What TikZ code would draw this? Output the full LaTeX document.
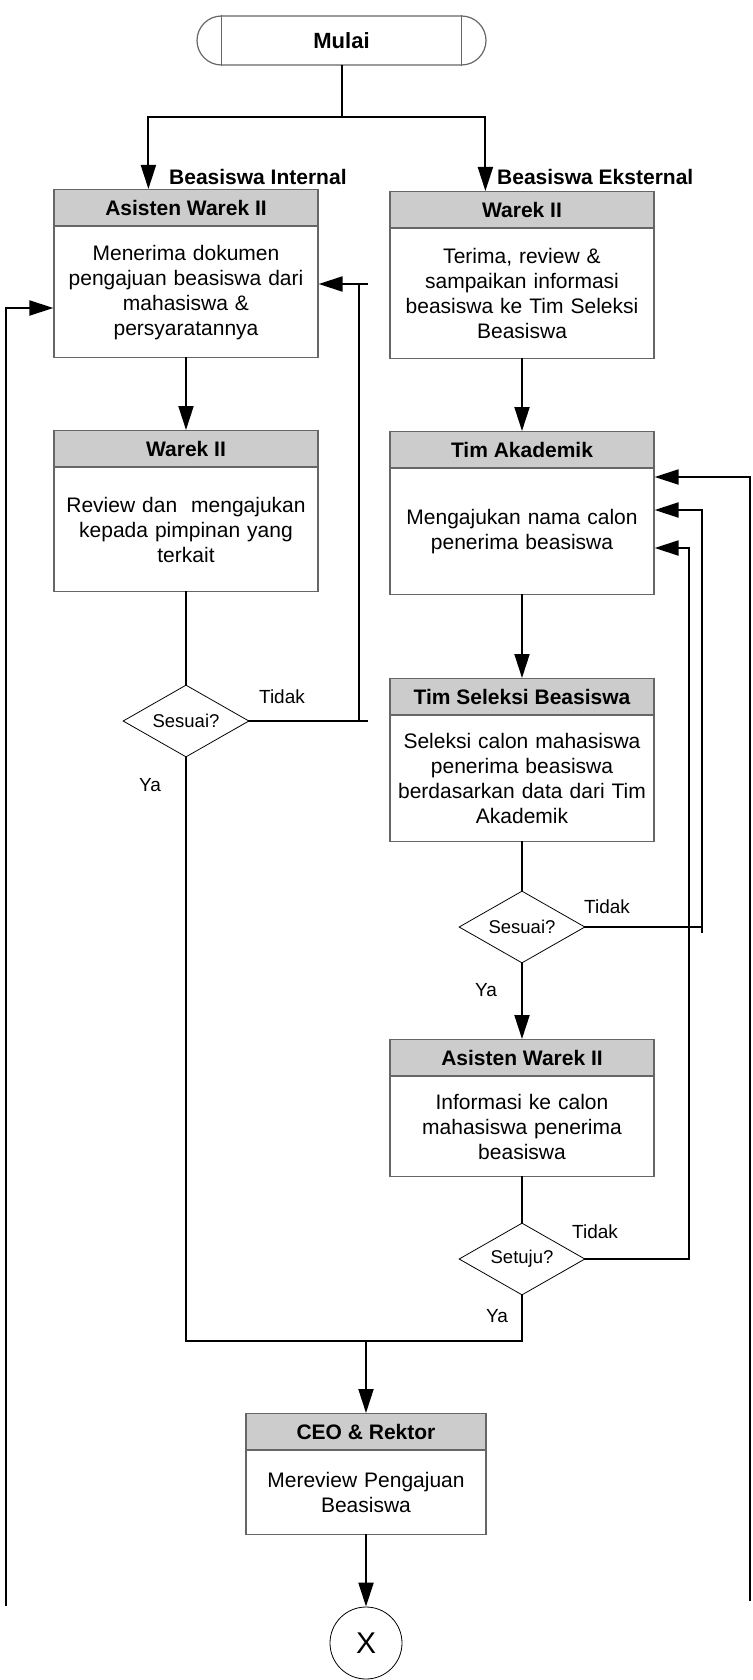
\documentclass[tikz,border=0pt]{standalone}
\usepackage{fontspec}
\setmainfont{Liberation Sans}
\usetikzlibrary{shapes.geometric}
\usetikzlibrary{arrows.meta}
\usetikzlibrary{calc}

\begin{document}
\begin{tikzpicture}[x=1pt, y=-1pt]
        \tikzstyle{rolebox} = [rectangle, draw=black!60, line width=1.2pt, fill=black!20, minimum width=264pt, minimum height=36pt, inner sep=0pt, anchor=north, font=\fontsize{21}{25}\selectfont\bfseries]
        \tikzstyle{taskbox} = [rectangle, draw=black!60, line width=1.2pt, fill=white, text width=256pt, inner xsep=4pt, inner ysep=0pt, align=center, anchor=north, font=\fontsize{21}{25}\selectfont]
        \tikzstyle{decision} = [diamond, draw, line width=0.8pt, minimum width=126pt, minimum height=72pt, inner sep=0pt, aspect=1.75, font=\fontsize{18.5}{22}\selectfont]
        \tikzstyle{wire} = [draw, line width=2pt, line cap=rect]
        \tikzstyle{flow} = [wire, -{Triangle[length=24pt, width=15pt]}]
        \tikzstyle{tag} = [inner sep=0pt, font=\fontsize{19}{22}\selectfont]

        \useasboundingbox (0,0) rectangle (752,1680);

        % start
        \node[draw=black!60, line width=1.2pt, rounded corners=24.5pt, minimum width=289pt, minimum height=49pt, font=\fontsize{22}{26}\selectfont\bfseries] (start) at (341.5,40.5) {Mulai};
        \draw[draw=black!60, line width=1.2pt] ($(start.north west)+(25,0)$) -- ($(start.south west)+(25,0)$);
        \draw[draw=black!60, line width=1.2pt] ($(start.north east)+(-25,0)$) -- ($(start.south east)+(-25,0)$);

        % left column
        \node[rolebox] (aw1h) at (186,189) {Asisten Warek II};
        \node[taskbox, minimum height=131pt] (aw1b) at (aw1h.south) {Menerima dokumen\\pengajuan beasiswa dari\\mahasiswa \&\\persyaratannya};
        \node[rolebox] (wk1h) at (186,430) {Warek II};
        \node[taskbox, minimum height=124pt] (wk1b) at (wk1h.south) {Review dan\ \ mengajukan\\kepada pimpinan yang\\terkait};
        \node[decision] (dec1) at (186,721) {Sesuai?};

        % right column
        \node[rolebox] (wk2h) at (522,191) {Warek II};
        \node[taskbox, minimum height=130pt] (wk2b) at (wk2h.south) {Terima, review \&\\sampaikan informasi\\beasiswa ke Tim Seleksi\\Beasiswa};
        \node[rolebox] (akh) at (522,431) {Tim Akademik};
        \node[taskbox, minimum height=126pt] (akb) at (akh.south) {Mengajukan nama calon\\penerima beasiswa};
        \node[rolebox] (tsh) at (522,678) {Tim Seleksi Beasiswa};
        \node[taskbox, minimum height=126pt] (tsb) at (tsh.south) {Seleksi calon mahasiswa\\penerima beasiswa\\berdasarkan data dari Tim\\Akademik};
        \node[decision] (dec2) at (522,927) {Sesuai?};
        \node[rolebox] (aw2h) at (522,1039) {Asisten Warek II};
        \node[taskbox, minimum height=100pt] (aw2b) at (aw2h.south) {Informasi ke calon\\mahasiswa penerima\\beasiswa};
        \node[decision] (dec3) at (522,1259) {Setuju?};

        % bottom
        \node[rolebox, minimum width=240pt] (ceoh) at (366,1413) {CEO \& Rektor};
        \node[taskbox, text width=232pt, minimum height=84pt] (ceob) at (ceoh.south) {Mereview Pengajuan\\Beasiswa};
        \node[circle, draw, line width=0.8pt, minimum size=72pt, inner sep=0pt, font=\fontsize{30}{34}\selectfont] (endx) at (366,1643) {X};

        % branch labels
        \node[tag, anchor=west, font=\fontsize{21}{25}\selectfont\bfseries] (lint) at (169,177) {Beasiswa Internal};
        \node[tag, anchor=west, font=\fontsize{21}{25}\selectfont\bfseries] (lext) at (497,177) {Beasiswa Eksternal};
        \foreach \x/\y/\t [count=\i] in {282/697/Tidak, 150/785/Ya, 607/907/Tidak, 486/990/Ya, 595/1232/Tidak, 497/1316/Ya}
        {
                \node[tag] (ans\i) at (\x,\y) {\t};
        }

        % connectors
        \coordinate (split) at (start.south |- 0,117);
        \draw[wire] (start.south) -- (split);
        \draw[flow] (split) -| ($(aw1h.north west)+(95,0)$);
        \draw[flow] (split) -| ($(wk2h.north west)+(96,0)$);

        \draw[flow] (aw1b.south) -- (wk1h.north);
        \draw[wire] (wk1b.south) -- (dec1.north);
        \draw[flow] (dec1.east) -- (367,721) (359,721) -- (359,284) (367,284) -- (aw1b.east |- 0,284);

        \draw[flow] (wk2b.south) -- (akh.north);
        \draw[flow] (akb.south) -- (tsh.north);
        \draw[wire] (tsb.south) -- (dec2.north);
        \draw[flow] (dec2.south) -- (aw2h.north);
        \draw[wire] (aw2b.south) -- (dec3.north);
        \draw[wire] (702,927) -- (702,932);
        \draw[flow] (dec2.east) -| (702,510) -- (akb.east |- 0,510);
        \draw[flow] (dec3.east) -| (689,548) -- (akb.east |- 0,548);

        \coordinate (join) at (dec3.south |- 0,1341);
        \draw[wire] (dec1.south) |- (join) -- (dec3.south);
        \draw[flow] (ceoh.north |- join) -- (ceoh.north);
        \draw[flow] (ceob.south) -- (endx.north);

        \coordinate (lfree) at (6,1605);
        \coordinate (rfree) at (750,1600);
        \draw[flow] (lfree) |- (aw1b.west |- 0,308);
        \draw[flow] (rfree) |- (akb.east |- 0,477);
\end{tikzpicture}
\end{document}
